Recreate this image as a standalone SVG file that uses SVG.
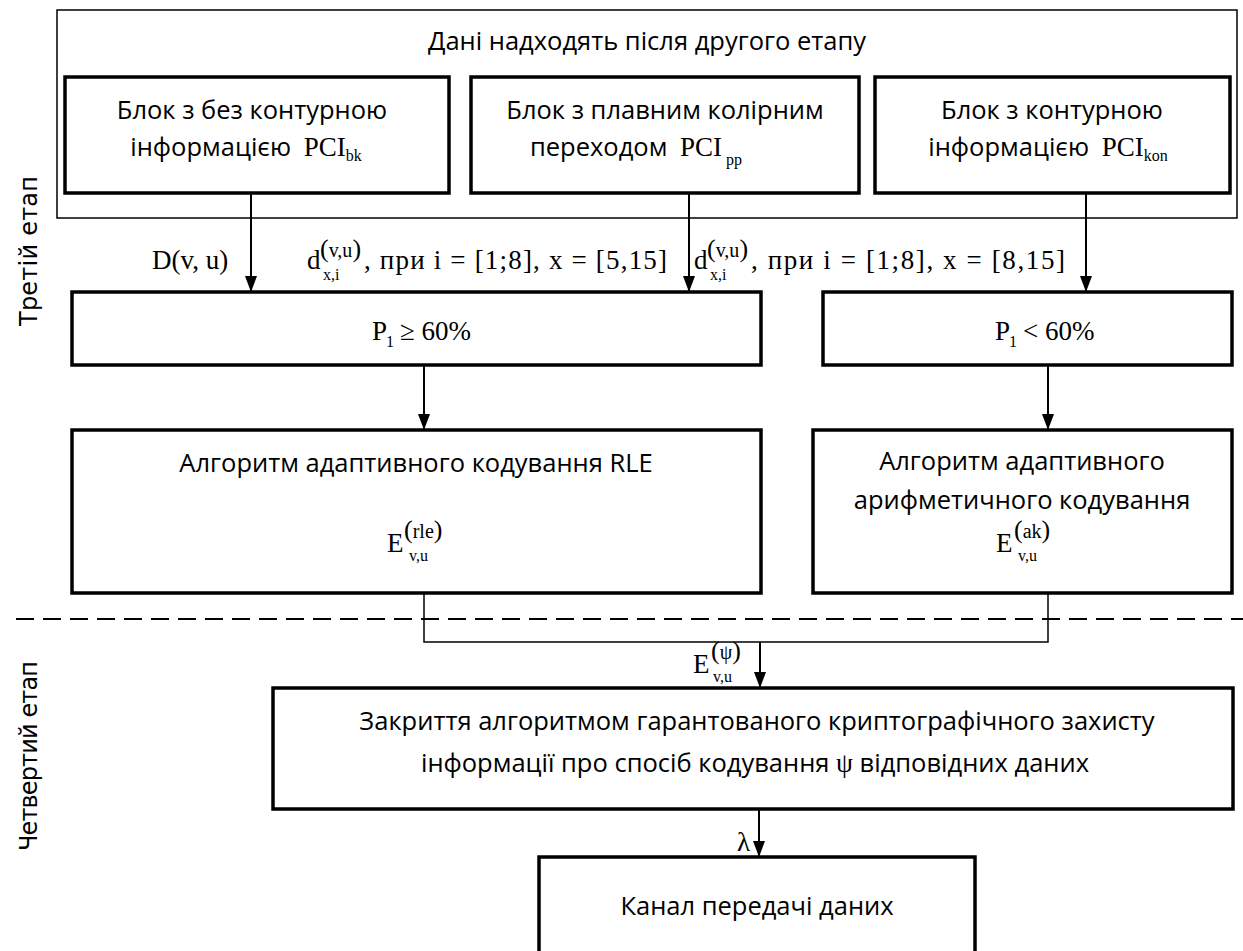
<svg xmlns="http://www.w3.org/2000/svg" width="1243" height="951" viewBox="0 0 1243 951">
<defs>
<style>
.b{fill:#fff;stroke:#000;stroke-width:3.5}
.o{fill:none;stroke:#000;stroke-width:1.5}
.t{font-family:"Open Sans","Noto Sans",sans-serif;font-size:25.5px;fill:#000;text-anchor:middle}
.s{font-family:"Liberation Serif",serif;font-size:27px;fill:#000}
.ss{font-family:"Liberation Serif",serif;font-size:20px;fill:#000}
.sb{font-family:"Liberation Serif",serif;font-size:16px;fill:#000}
.pa{font-size:26px}
.r{font-family:"DejaVu Sans",sans-serif;font-size:24px;fill:#000;text-anchor:middle}
.c{fill:none;stroke:#000;stroke-width:2}
.c1{fill:none;stroke:#000;stroke-width:1.5}
</style>
<marker id="ah" markerUnits="userSpaceOnUse" viewBox="0 0 12 16" refX="6" refY="16" markerWidth="12" markerHeight="16" orient="0">
<path d="M0,0 L12,0 L6,16 z" fill="#000"/>
</marker>
</defs>
<rect width="1243" height="951" fill="#fff"/>

<g id="stage3-label"><text class="r" transform="translate(37,251) rotate(-90)" textLength="150">Третій етап</text></g>
<g id="stage4-label"><text class="r" transform="translate(37,756) rotate(-90)" textLength="190">Четвертий етап</text></g>

<g id="input-group">
<rect class="o" x="57" y="10" width="1180" height="208"/>
<text class="t" x="647" y="50">Дані надходять після другого етапу</text>
</g>

<g id="block-bk">
<rect class="b" x="65" y="77" width="384" height="116"/>
<text class="t" x="252" y="119">Блок з без контурною</text>
<text class="t" x="246" y="156">інформацією <tspan class="s" font-size="29" dx="6">PCI</tspan><tspan class="sb" dy="5">bk</tspan></text>
</g>

<g id="block-pp">
<rect class="b" x="471" y="77" width="388" height="116"/>
<text class="t" x="636" y="119" dx="29">Блок з плавним колірним</text>
<text class="t" x="636" y="156">переходом <tspan class="s" font-size="29" dx="6">PCI</tspan><tspan class="sb" dx="4" dy="9">pp</tspan></text>
</g>

<g id="block-kon">
<rect class="b" x="875" y="77" width="355" height="116"/>
<text class="t" x="1052" y="119">Блок з контурною</text>
<text class="t" x="1048" y="156">інформацією <tspan class="s" font-size="29" dx="6">PCI</tspan><tspan class="sb" dy="5">kon</tspan></text>
</g>

<g id="p-ge">
<rect class="b" x="72" y="292" width="689" height="73"/>
<text class="s" x="372" y="340">P</text><text class="sb" x="386" y="347">1</text><text class="s" x="400" y="340">≥ 60%</text>
</g>

<g id="p-lt">
<rect class="b" x="823" y="292" width="409" height="73"/>
<text class="s" x="995" y="340">P</text><text class="sb" x="1009" y="347">1</text><text class="s" x="1023" y="340">&lt; 60%</text>
</g>

<g id="rle">
<rect class="b" x="72" y="430" width="689" height="163"/>
<text class="t" x="416" y="472">Алгоритм адаптивного кодування RLE</text>
<text class="s" x="387" y="552">E</text><text class="ss" x="404" y="538"><tspan class="pa">(</tspan>rle<tspan class="pa">)</tspan></text><text class="sb" x="409" y="561">v,u</text>
</g>

<g id="ak">
<rect class="b" x="813" y="430" width="419" height="163"/>
<text class="t" x="1022" y="470">Алгоритм адаптивного</text>
<text class="t" x="1022" y="509">арифметичного кодування</text>
<text class="s" x="996" y="552">E</text><text class="ss" x="1014" y="538"><tspan class="pa">(</tspan>ak<tspan class="pa">)</tspan></text><text class="sb" x="1018" y="561">v,u</text>
</g>

<g id="crypto">
<rect class="b" x="273" y="688" width="960" height="121"/>
<text class="t" x="757" y="730">Закриття алгоритмом гарантованого криптографічного захисту</text>
<text class="t" x="755" y="772">інформації про спосіб кодування <tspan class="s" font-size="28">ψ</tspan>  відповідних даних</text>
</g>

<g id="channel">
<rect class="b" x="539" y="857" width="436" height="110"/>
<text class="t" x="757" y="915">Канал передачі даних</text>
</g>

<g id="divider">
<line x1="16" y1="619" x2="1243" y2="619" stroke="#000" stroke-width="2" stroke-dasharray="18,9"/>
</g>

<g id="connectors">
<line class="c" x1="251" y1="193" x2="251" y2="292" marker-end="url(#ah)"/>
<line class="c" x1="689" y1="193" x2="689" y2="292" marker-end="url(#ah)"/>
<line class="c" x1="1086" y1="193" x2="1086" y2="292" marker-end="url(#ah)"/>
<line class="c" x1="424" y1="365" x2="424" y2="430" marker-end="url(#ah)"/>
<line class="c" x1="1048" y1="365" x2="1048" y2="430" marker-end="url(#ah)"/>
<polyline class="c1" points="424,593 424,642 1048,642 1048,593"/>
<line class="c" x1="760" y1="642" x2="760" y2="688" marker-end="url(#ah)"/>
<line class="c" x1="759" y1="809" x2="759" y2="857" marker-end="url(#ah)"/>
<text class="s" x="152" y="269">D(v, u)</text>
<text class="s" x="307" y="269">d</text><text class="ss" x="320" y="257" font-size="21"><tspan class="pa">(</tspan>v,u<tspan class="pa">)</tspan></text><text class="sb" x="323" y="280">x,i</text>
<text class="s" x="364" y="269" textLength="303" lengthAdjust="spacing">, при i = [1;8], x = [5,15]</text>
<text class="s" x="694" y="269">d</text><text class="ss" x="707" y="257" font-size="21"><tspan class="pa">(</tspan>v,u<tspan class="pa">)</tspan></text><text class="sb" x="710" y="280">x,i</text>
<text class="s" x="751" y="269" textLength="314" lengthAdjust="spacing">, при i = [1;8], x = [8,15]</text>
<text class="s" x="693" y="673">E</text><text class="ss" x="711" y="659"><tspan class="pa">(</tspan>ψ<tspan class="pa">)</tspan></text><text class="sb" x="713" y="682">v,u</text>
<text class="s" x="737" y="851" font-size="29">λ</text>
</g>
</svg>
